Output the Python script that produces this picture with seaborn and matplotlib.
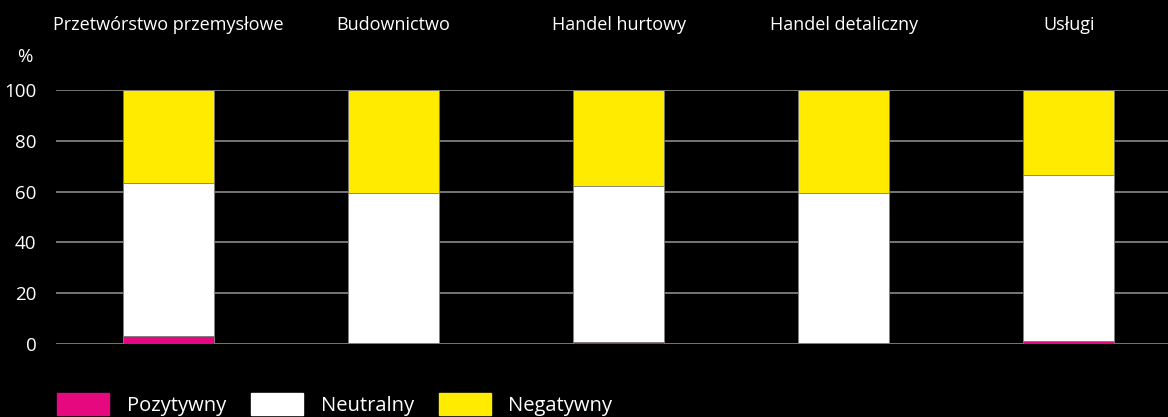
import matplotlib
matplotlib.use("Agg")
import matplotlib.pyplot as plt
import matplotlib.patches as mpatches
import seaborn as sns

# dane (%)
kategorie = ["Przetwórstwo przemysłowe", "Budownictwo", "Handel hurtowy",
             "Handel detaliczny", "Usługi"]
pozytywny = [3.2, 0.4, 0.8, 0.3, 1.2]
neutralny = [60.2, 58.9, 61.5, 59.0, 65.2]
negatywny = [36.6, 40.7, 37.7, 40.7, 33.6]
y_ticks = [0, 20, 40, 60, 80, 100]

kolor_poz = "#e5087f"
kolor_neu = "#ffffff"
kolor_neg = "#ffeb00"

sns.set_style("dark")
plt.rcParams["font.family"] = ["Open Sans", "DejaVu Sans"]

fig = plt.figure(figsize=(11.68, 4.17), dpi=100, facecolor="black")
ax = fig.add_axes([56 / 1168, 1 - 344 / 417, 1 - 56 / 1168, (344 - 90) / 417])
ax.set_facecolor("black")

# skumulowane słupki: najpierw całość, potem kolejne warstwy
suma_neg = [p + n + g for p, n, g in zip(pozytywny, neutralny, negatywny)]
suma_neu = [p + n for p, n in zip(pozytywny, neutralny)]

for wartosci, kolor in [(suma_neg, kolor_neg), (suma_neu, kolor_neu), (pozytywny, kolor_poz)]:
    sns.barplot(x=kategorie, y=wartosci, color=kolor, width=0.404,
                edgecolor="#777777", linewidth=0.6, saturation=1, ax=ax, zorder=3)

ax.set_ylim(0, 100)
ax.set_xlim(-0.5, 4.44)
ax.set_yticks(y_ticks)
ax.set_yticklabels([str(t) for t in y_ticks])
ax.yaxis.grid(True, color="#8a8a8a", linewidth=1.2, zorder=0)
ax.xaxis.grid(False)
for s in ax.spines.values():
    s.set_visible(False)

ax.xaxis.tick_top()
ax.tick_params(axis="x", length=0, pad=40, labelsize=13, colors="white")
ax.tick_params(axis="y", length=0, pad=14, labelsize=13.5, colors="white")
ax.set_xlabel("")
ax.set_ylabel("")

fig.text(25 / 1168, 1 - 57 / 417, "%", color="white", fontsize=13.5,
         ha="center", va="center")

uchwyty = [mpatches.Patch(facecolor=kolor_poz, edgecolor=kolor_poz, label="Pozytywny"),
           mpatches.Patch(facecolor=kolor_neu, edgecolor=kolor_neu, label="Neutralny"),
           mpatches.Patch(facecolor=kolor_neg, edgecolor=kolor_neg, label="Negatywny")]
leg = fig.legend(handles=uchwyty, loc="upper left", bbox_to_anchor=(39 / 1168, 1 - 375 / 417),
                 ncol=3, frameon=False, fontsize=14.5, handlelength=2.6, handleheight=1.3,
                 handletextpad=0.85, columnspacing=1.25, labelcolor="white")

fig.savefig("out.png", dpi=100, facecolor="black")
